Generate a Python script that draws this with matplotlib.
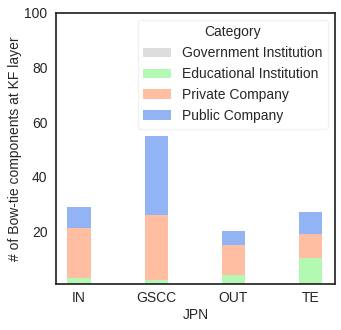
import matplotlib
matplotlib.use("Agg")
import matplotlib.pyplot as plt
import numpy as np

plt.rcParams['font.family'] = ['Liberation Sans', 'DejaVu Sans']

# data (stacked counts)
layers = ["IN", "GSCC", "OUT", "TE"]
categories = ["Government Institution", "Educational Institution", "Private Company", "Public Company"]
gov = [1, 1, 1, 1]
edu = [2, 1, 3, 9]
priv = [18, 24, 11, 9]
pub = [8, 29, 5, 8]
colors = ["#dddddd", "#b3f8b3", "#ffbea2", "#93b4f4"]

fig = plt.figure(figsize=(3.41, 3.30), dpi=100)
ax = fig.add_axes([0.164, 0.139, 0.818, 0.822])

x = np.arange(len(layers))
bottom = np.zeros(len(layers))
for name, vals, c in zip(categories, [gov, edu, priv, pub], colors):
    ax.bar(x, vals, width=0.3, bottom=bottom, color=c, label=name)
    bottom += np.array(vals)

ax.set_xticks(x)
ax.set_xticklabels(layers, fontsize=10)
ax.set_yticks([20, 40, 60, 80, 100])
ax.tick_params(axis='y', labelsize=10, length=0, pad=6)
ax.tick_params(axis='x', length=0, pad=5)
ax.set_xlim(-0.3, 3.32)
ax.set_ylim(0.6, 100)
ax.set_xlabel("JPN", fontsize=10, color="#262626", labelpad=2)
ax.set_ylabel("# of Bow-tie components at KF layer", fontsize=10, color="#262626", labelpad=2)
for lab in ax.get_xticklabels() + ax.get_yticklabels():
    lab.set_color("#262626")
for s in ax.spines.values():
    s.set_color("#262626")
    s.set_linewidth(1.25)

leg = ax.legend(title="Category", loc="upper right", fontsize=10, title_fontsize=10,
                frameon=True, handlelength=2.0, borderpad=0.4, labelspacing=0.5)
leg.get_frame().set_edgecolor("#eeeeee")
for t in leg.get_texts():
    t.set_color("#262626")
leg.get_title().set_color("#262626")

fig.savefig("out.png", dpi=100)
